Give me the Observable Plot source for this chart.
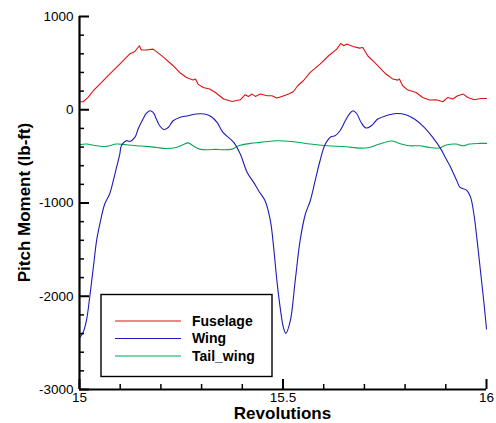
<!DOCTYPE html>
<html><head><meta charset="utf-8">
<script src="https://cdn.jsdelivr.net/npm/d3@7"></script>
<script src="https://cdn.jsdelivr.net/npm/@observablehq/plot@0.6"></script>
<style>body{margin:0;background:#fff;}</style>
</head><body><div id="chart"></div>
<script>
// ---- data ----
const seriesNames = ["Fuselage", "Wing", "Tail_wing"];
const seriesColors = ["#e01010", "#1c1cb8", "#00a855"];

const revFuselage = [15.000,15.009,15.021,15.034,15.050,15.074,15.099,15.123,15.136,15.147,15.152,15.164,15.181,15.197,15.209,15.230,15.246,15.263,15.279,15.285,15.291,15.304,15.320,15.334,15.354,15.375,15.395,15.407,15.415,15.424,15.432,15.444,15.461,15.473,15.485,15.497,15.514,15.526,15.536,15.550,15.567,15.591,15.612,15.632,15.642,15.649,15.657,15.672,15.688,15.696,15.708,15.725,15.741,15.753,15.770,15.782,15.786,15.794,15.807,15.827,15.843,15.860,15.876,15.893,15.905,15.917,15.929,15.943,15.954,15.970,15.986,16.000];
const momFuselage = [85,86,132,204,275,383,490,597,625,686,640,640,650,597,554,472,400,346,318,329,275,239,222,185,115,89,107,161,143,168,143,168,150,150,125,143,168,196,257,311,400,490,579,650,711,686,704,679,661,668,579,507,436,383,329,318,329,257,211,185,132,104,107,86,132,115,150,168,132,107,121,121];

const revWing = [15.001,15.009,15.017,15.025,15.034,15.042,15.050,15.062,15.074,15.083,15.091,15.099,15.103,15.115,15.123,15.136,15.144,15.156,15.164,15.173,15.181,15.189,15.197,15.207,15.218,15.230,15.246,15.267,15.287,15.307,15.324,15.338,15.352,15.379,15.395,15.412,15.428,15.440,15.456,15.469,15.477,15.485,15.493,15.501,15.507,15.518,15.530,15.542,15.555,15.567,15.579,15.591,15.604,15.618,15.628,15.640,15.653,15.663,15.672,15.681,15.692,15.704,15.717,15.733,15.753,15.778,15.802,15.823,15.847,15.868,15.888,15.901,15.910,15.927,15.935,15.951,15.961,15.969,15.977,15.986,15.994,16.000];
const momWing = [-2441,-2387,-2262,-2012,-1691,-1404,-1225,-1011,-904,-761,-619,-475,-386,-332,-340,-297,-207,-100,-40,-11,-29,-100,-172,-211,-190,-118,-82,-64,-46,-46,-75,-136,-240,-350,-475,-672,-779,-868,-976,-1190,-1476,-1833,-2119,-2334,-2398,-2262,-1833,-1404,-1118,-976,-761,-547,-368,-289,-279,-225,-118,-46,-11,-40,-136,-196,-172,-100,-64,-40,-54,-100,-190,-297,-422,-529,-600,-761,-833,-861,-940,-1118,-1404,-1761,-2083,-2351];

const revTail = [15.000,15.017,15.042,15.066,15.091,15.115,15.140,15.164,15.189,15.213,15.238,15.254,15.267,15.279,15.295,15.316,15.334,15.350,15.375,15.391,15.420,15.444,15.485,15.526,15.567,15.608,15.655,15.688,15.712,15.737,15.766,15.786,15.811,15.835,15.860,15.884,15.901,15.925,15.942,15.958,15.982,16.000];
const momTail = [-375,-368,-386,-393,-368,-375,-386,-393,-404,-415,-404,-375,-355,-386,-422,-429,-425,-429,-422,-386,-361,-350,-332,-343,-368,-386,-397,-411,-404,-368,-335,-361,-386,-386,-404,-411,-379,-368,-386,-368,-361,-361];

const xDomain = [15, 16];
const yDomain = [-3000, 1000];
const xMajor = [15, 15.5, 16];
const xMinor = [15.1, 15.2, 15.3, 15.4, 15.6, 15.7, 15.8, 15.9];
const yMajor = [-3000, -2000, -1000, 0, 1000];
const yMinor = [-2800,-2600,-2400,-2200,-1800,-1600,-1400,-1200,-800,-600,-400,-200,200,400,600,800];

const xTitle = "Revolutions";
const yTitle = "Pitch Moment (lb-ft)";

// ---- build ----
const toRows = (xs, ys) => xs.map((x, i) => ({x, y: ys[i]}));
const fuselage = toRows(revFuselage, momFuselage);
const wing = toRows(revWing, momWing);
const tail = toRows(revTail, momTail);

const W = 496, H = 423;
const mL = 79, mR = 10, mT = 16, mB = 34;
const font = "'Liberation Sans', Arial, Helvetica, sans-serif";

const chart = Plot.plot({
  width: W, height: H,
  marginLeft: mL, marginRight: mR, marginTop: mT, marginBottom: mB,
  style: {fontFamily: font, fontSize: "13.5px", color: "#000", background: "#fff"},
  x: {domain: xDomain, ticks: xMajor, tickSize: 0, tickPadding: 3, tickFormat: d => String(d), label: null},
  y: {domain: yDomain, ticks: yMajor, tickSize: 0, tickPadding: 6, tickFormat: d => String(d), label: null},
  marks: [
    Plot.line(tail, {x: "x", y: "y", stroke: seriesColors[2], strokeWidth: 1.1, curve: "catmull-rom"}),
    Plot.line(fuselage, {x: "x", y: "y", stroke: seriesColors[0], strokeWidth: 1.1}),
    Plot.line(wing, {x: "x", y: "y", stroke: seriesColors[1], strokeWidth: 1.1, curve: "catmull-rom"}),
    Plot.ruleY(yMinor, {x1: xDomain[0], x2: xDomain[0], insetRight: -5, strokeWidth: 1.5}),
    Plot.ruleY(yMajor, {x1: xDomain[0], x2: xDomain[0], insetRight: -10, strokeWidth: 2}),
    Plot.ruleX(xMinor, {y1: yDomain[0], y2: yDomain[0], insetTop: -5, strokeWidth: 1.5}),
    Plot.ruleX(xMajor, {y1: yDomain[0], y2: yDomain[0], insetTop: -10, strokeWidth: 2}),
    Plot.ruleX([xDomain[0]], {strokeWidth: 2.2}),
    Plot.ruleY([yDomain[0]], {strokeWidth: 2.2})
  ]
});

const svg = d3.select(chart);
// tick labels drawn by Plot
svg.selectAll("g").filter(function() { return this.getAttribute("font-size"); }).attr("font-size", 13.5);
svg.selectAll("text").attr("font-size", 13.5).style("font-size", "13.5px").style("font-family", font);

// titles
svg.append("text")
  .attr("x", (mL + W - mR) / 2).attr("y", 419)
  .attr("text-anchor", "middle")
  .style("font-family", font).style("font-size", "17px").style("font-weight", "bold")
  .attr("fill", "#000")
  .text(xTitle);
svg.append("text")
  .attr("transform", `translate(30,${(mT + H - mB) / 2}) rotate(-90)`)
  .attr("text-anchor", "middle")
  .style("font-family", font).style("font-size", "17px").style("font-weight", "bold")
  .attr("fill", "#000")
  .text(yTitle);

// legend
const lg = svg.append("g").attr("text-anchor", "start");
lg.append("rect").attr("x", 101).attr("y", 294.5).attr("width", 171).attr("height", 82)
  .attr("fill", "#fff").attr("stroke", "#000").attr("stroke-width", 1.4);
seriesNames.forEach((name, i) => {
  const yy = 321 + i * 17.5;
  lg.append("line").attr("x1", 115).attr("x2", 181).attr("y1", yy).attr("y2", yy)
    .attr("stroke", seriesColors[i]).attr("stroke-width", 1.2);
  lg.append("text").attr("x", 192).attr("y", yy).attr("dy", "0.35em")
    .attr("text-anchor", "start")
    .style("font-family", font).style("font-size", "14px").style("font-weight", "bold")
    .attr("fill", "#000").text(name);
});

document.getElementById("chart").appendChild(chart);
</script>
</body></html>
